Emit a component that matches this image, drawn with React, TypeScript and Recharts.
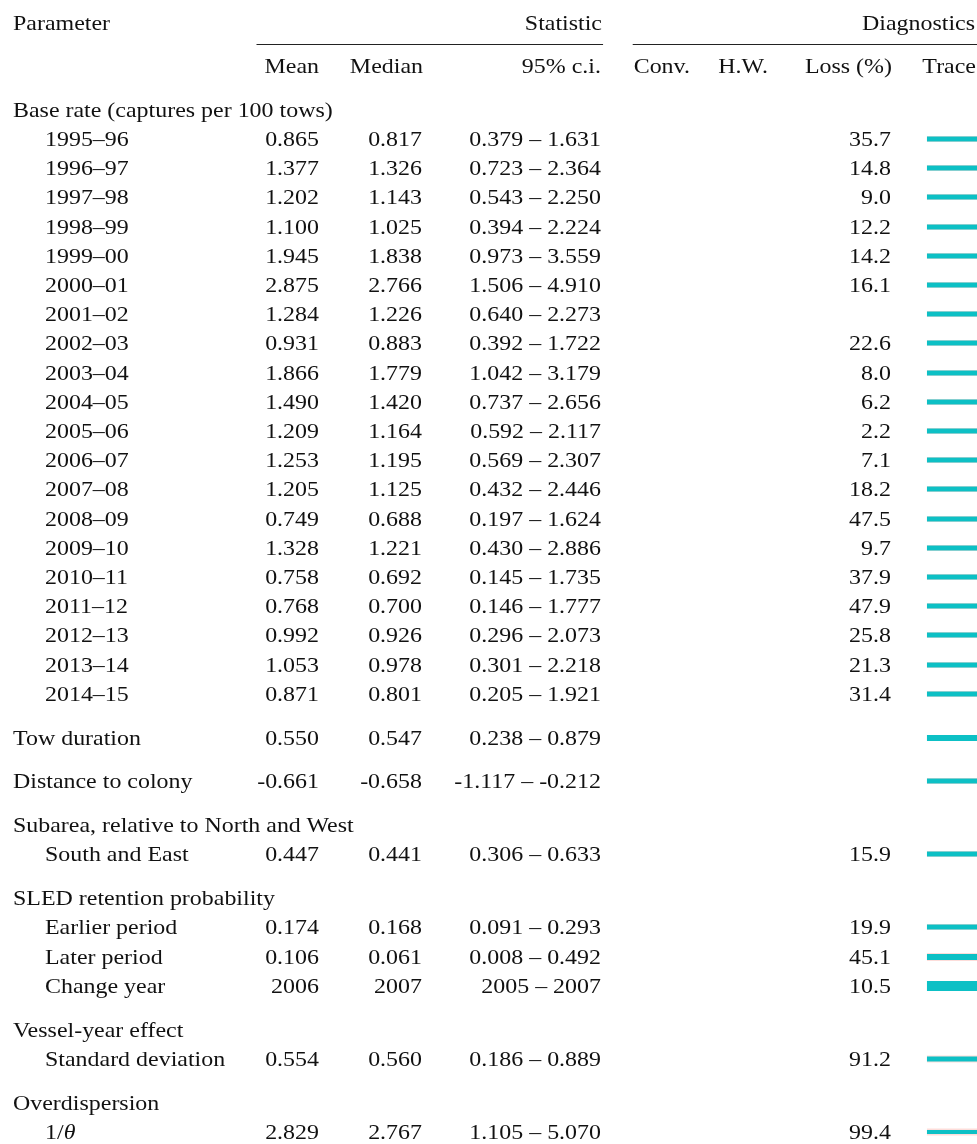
import { Area, AreaChart, XAxis, YAxis } from "recharts"

// posterior summary, one entry per table row
const rowLabels = [
  "1995–96", "1996–97", "1997–98", "1998–99", "1999–00", "2000–01", "2001–02", "2002–03",
  "2003–04", "2004–05", "2005–06", "2006–07", "2007–08", "2008–09", "2009–10", "2010–11",
  "2011–12", "2012–13", "2013–14", "2014–15",
  "Tow duration", "Distance to colony", "South and East",
  "Earlier period", "Later period", "Change year", "Standard deviation", "1/θ",
]
const means = [
  0.865, 1.377, 1.202, 1.1, 1.945, 2.875, 1.284, 0.931, 1.866, 1.49, 1.209, 1.253, 1.205, 0.749,
  1.328, 0.758, 0.768, 0.992, 1.053, 0.871, 0.55, -0.661, 0.447, 0.174, 0.106, 2006, 0.554, 2.829,
]
const medians = [
  0.817, 1.326, 1.143, 1.025, 1.838, 2.766, 1.226, 0.883, 1.779, 1.42, 1.164, 1.195, 1.125, 0.688,
  1.221, 0.692, 0.7, 0.926, 0.978, 0.801, 0.547, -0.658, 0.441, 0.168, 0.061, 2007, 0.56, 2.767,
]
const ciLow = [
  0.379, 0.723, 0.543, 0.394, 0.973, 1.506, 0.64, 0.392, 1.042, 0.737, 0.592, 0.569, 0.432, 0.197,
  0.43, 0.145, 0.146, 0.296, 0.301, 0.205, 0.238, -1.117, 0.306, 0.091, 0.008, 2005, 0.186, 1.105,
]
const ciHigh = [
  1.631, 2.364, 2.25, 2.224, 3.559, 4.91, 2.273, 1.722, 3.179, 2.656, 2.117, 2.307, 2.446, 1.624,
  2.886, 1.735, 1.777, 2.073, 2.218, 1.921, 0.879, -0.212, 0.633, 0.293, 0.492, 2007, 0.889, 5.07,
]
const lossPct = [
  35.7, 14.8, 9.0, 12.2, 14.2, 16.1, null, 22.6, 8.0, 6.2, 2.2, 7.1, 18.2, 47.5, 9.7, 37.9,
  47.9, 25.8, 21.3, 31.4, null, null, 15.9, 19.9, 45.1, 10.5, 91.2, 99.4,
]
// vertical spread of the two MCMC chains in each trace thumbnail
const chainSpread = [
  5, 5, 5, 5, 5, 5, 5, 5, 5, 5, 5, 5, 5, 5, 5, 5, 5, 5, 5, 5,
  6, 5, 5, 5, 6, 10, 5, 4,
]
const chainNoise = [
  6, 6, 6, 6, 6, 6, 6, 6, 6, 6, 6, 6, 6, 6, 6, 6, 6, 6, 6, 6,
  6, 6, 6, 6, 8, 10, 7, 7,
]

const sections = [
  { title: "Base rate (captures per 100 tows)", start: 0, count: 20 },
  { title: null, start: 20, count: 1 },
  { title: null, start: 21, count: 1 },
  { title: "Subarea, relative to North and West", start: 22, count: 1 },
  { title: "SLED retention probability", start: 23, count: 3 },
  { title: "Vessel-year effect", start: 26, count: 1 },
  { title: "Overdispersion", start: 27, count: 1 },
]

const SX = 1.14
const INNER_W = 977 / SX
const ROW = 29.2
const GAP = 43.8

const fmt = (v: number) => (Math.abs(v) >= 1000 ? String(v) : v.toFixed(3))

function Cell({ x, y, right, children }: { x: number; y: number; right?: boolean; children: any }) {
  const base: any = {
    position: "absolute",
    top: y - 13,
    lineHeight: "26px",
    fontSize: 21,
    whiteSpace: "nowrap",
  }
  if (right) {
    base.left = x / SX - 300
    base.width = 300
    base.textAlign = "right"
  } else {
    base.left = x / SX
  }
  return <div style={base}>{children}</div>
}

function Trace({ y, spread, noise }: { y: number; spread: number; noise: number }) {
  const data = [
    { t: 0, chain1: [-spread / 2, spread / 2], chain2: [-noise / 2, noise / 2] },
    { t: 1, chain1: [-spread / 2, spread / 2], chain2: [-noise / 2, noise / 2] },
  ]
  return (
    <div style={{ position: "absolute", left: 927 / SX, top: y - 8 }}>
      <AreaChart width={50} height={16} data={data} margin={{ top: 0, right: 0, bottom: 0, left: 0 }}>
        <XAxis dataKey="t" type="number" domain={[0, 1]} hide />
        <YAxis type="number" domain={[-8, 8]} hide />
        <Area dataKey="chain2" fill="#F8766D" fillOpacity={0.25} stroke="none" isAnimationActive={false} />
        <Area dataKey="chain1" fill="#00BFC4" fillOpacity={0.95} stroke="none" isAnimationActive={false} />
      </AreaChart>
    </div>
  )
}

function Label({ i }: { i: number }) {
  const s = rowLabels[i]
  if (s === "1/θ") {
    return (
      <span>
        1/<i>θ</i>
      </span>
    )
  }
  return <span>{s}</span>
}

export default function App() {
  const cells: any[] = []
  let y = 109.8
  let first = true
  sections.forEach((sec, si) => {
    if (!first) y += GAP
    first = false
    let indent = 13
    if (sec.title) {
      cells.push(
        <Cell key={"t" + si} x={13} y={y}>
          {sec.title}
        </Cell>
      )
      y += ROW
      indent = 45
    }
    for (let k = 0; k < sec.count; k++) {
      const i = sec.start + k
      if (k > 0) y += ROW
      cells.push(
        <Cell key={"l" + i} x={indent} y={y}>
          <Label i={i} />
        </Cell>,
        <Cell key={"m" + i} x={319} y={y} right>
          {fmt(means[i])}
        </Cell>,
        <Cell key={"d" + i} x={422} y={y} right>
          {fmt(medians[i])}
        </Cell>,
        <Cell key={"c" + i} x={601} y={y} right>
          {fmt(ciLow[i]) + " – " + fmt(ciHigh[i])}
        </Cell>
      )
      if (lossPct[i] !== null) {
        cells.push(
          <Cell key={"p" + i} x={891} y={y} right>
            {(lossPct[i] as number).toFixed(1)}
          </Cell>
        )
      }
      cells.push(<Trace key={"tr" + i} y={y} spread={chainSpread[i]} noise={chainNoise[i]} />)
    }
  })

  return (
    <div
      style={{
        position: "absolute",
        left: 0,
        top: 0,
        width: 977,
        height: 1144,
        overflow: "hidden",
        background: "#fff",
      }}
    >
      <div
        style={{
          position: "relative",
          width: INNER_W,
          height: 1144,
          transform: `scaleX(${SX})`,
          transformOrigin: "0 0",
          fontFamily: "'Liberation Serif', 'Times New Roman', serif",
          color: "#111",
        }}
      >
        <Cell x={13} y={23}>Parameter</Cell>
        <Cell x={602} y={23} right>Statistic</Cell>
        <Cell x={975} y={23} right>Diagnostics</Cell>
        <div style={{ position: "absolute", left: 256 / SX, width: (603 - 256) / SX, top: 44, height: 1, background: "#222" }} />
        <div style={{ position: "absolute", left: 633 / SX, width: (990 - 633) / SX, top: 44, height: 1, background: "#222" }} />
        <Cell x={319} y={66} right>Mean</Cell>
        <Cell x={423} y={66} right>Median</Cell>
        <Cell x={601} y={66} right>95% c.i.</Cell>
        <Cell x={690} y={66} right>Conv.</Cell>
        <Cell x={768} y={66} right>H.W.</Cell>
        <Cell x={892} y={66} right>Loss (%)</Cell>
        <Cell x={976} y={66} right>Trace</Cell>
        {cells}
      </div>
    </div>
  )
}
